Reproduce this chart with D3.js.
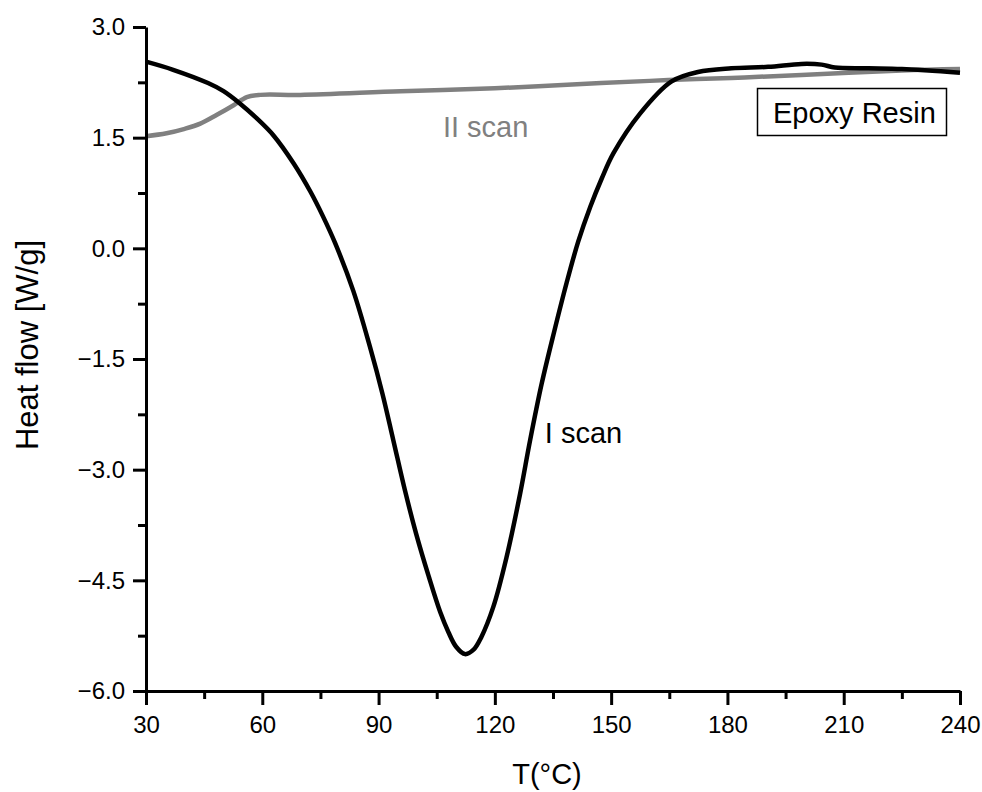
<!DOCTYPE html>
<html>
<head>
<meta charset="utf-8">
<script src="https://cdn.jsdelivr.net/npm/d3@7"></script>
<style>
  html, body { margin: 0; padding: 0; background: #fff; }
  svg { display: block; font-family: "Liberation Sans", Arial, sans-serif; }
</style>
</head>
<body>
<svg id="chart" width="982" height="792"></svg>
<script>
// ---- data ----
const scan1T = [30, 37, 46, 50, 54.3, 58.6, 62.9, 68.1, 72.4, 75.6, 78.8, 83.5, 87.8, 91.0, 93.8, 96.8, 99.7, 102.9, 105.9, 108.0, 110.0, 112.3, 114.5, 116.5, 119.6, 123.0, 126.5, 129.1, 132.1, 135.3, 138.5, 141.5, 144.6, 147.6, 150.6, 157.5, 165.5, 172.4, 181, 190.5, 199.1, 204.3, 207.7, 216.4, 225, 240];
const scan1Q = [2.53, 2.42, 2.24, 2.13, 1.96, 1.76, 1.53, 1.15, 0.77, 0.44, 0.07, -0.58, -1.34, -1.97, -2.60, -3.28, -3.87, -4.44, -4.93, -5.20, -5.40, -5.50, -5.44, -5.27, -4.86, -4.19, -3.33, -2.60, -1.83, -1.13, -0.47, 0.09, 0.56, 0.95, 1.29, 1.83, 2.26, 2.39, 2.44, 2.46, 2.50, 2.49, 2.45, 2.44, 2.43, 2.38];
const scan2T = [30, 35.3, 40, 44.0, 48.3, 52.6, 56.0, 59.5, 69.8, 95.7, 120, 147.4, 164.7, 181, 199.1, 225, 240];
const scan2Q = [1.52, 1.56, 1.62, 1.69, 1.81, 1.94, 2.05, 2.08, 2.08, 2.13, 2.17, 2.24, 2.28, 2.31, 2.35, 2.41, 2.43];
const xTicks = [30, 60, 90, 120, 150, 180, 210, 240];
const xMinor = [45, 75, 105, 135, 165, 195, 225];
const yTicks = [3.0, 1.5, 0.0, -1.5, -3.0, -4.5, -6.0];
const yMinor = [2.25, 0.75, -0.75, -2.25, -3.75, -5.25];
const labels = { scan1: "I scan", scan2: "II scan", legend: "Epoxy Resin", xTitle: "T(°C)", yTitle: "Heat flow [W/g]" };

// ---- layout ----
const svg = d3.select("#chart");
const margin = { left: 146, top: 27, right: 22, bottom: 101 };
const W = 982, H = 792;
const x = d3.scaleLinear().domain([30, 240]).range([margin.left, W - margin.right]);
const y = d3.scaleLinear().domain([-6, 3]).range([H - margin.bottom, margin.top]);

// curves
const line = d3.line().x(d => x(d[0])).y(d => y(d[1])).curve(d3.curveCatmullRom.alpha(0.5));
const s2 = scan2T.map((t, i) => [t, scan2Q[i]]);
const s1 = scan1T.map((t, i) => [t, scan1Q[i]]);
svg.append("path").attr("d", line(s2)).attr("fill", "none")
  .attr("stroke", "#808080").attr("stroke-width", 4.5).attr("stroke-linejoin", "round");
svg.append("path").attr("d", line(s1)).attr("fill", "none")
  .attr("stroke", "#000").attr("stroke-width", 4.5).attr("stroke-linejoin", "round");

// axes
function styleAxis(g) {
  g.select(".domain").attr("stroke", "#000").attr("stroke-width", 3);
  g.selectAll(".tick line").attr("stroke", "#000").attr("stroke-width", 3);
  g.selectAll(".tick text").attr("fill", "#000").attr("font-size", 24)
    .attr("font-family", "'Liberation Sans', Arial, sans-serif");
}
const xAxisG = svg.append("g").attr("transform", `translate(0,${y(-6)})`)
  .call(d3.axisBottom(x).tickValues(xTicks).tickFormat(d3.format("d")).tickSize(14).tickPadding(11).tickSizeOuter(0));
styleAxis(xAxisG);
const xMinorG = svg.append("g").attr("transform", `translate(0,${y(-6)})`)
  .call(d3.axisBottom(x).tickValues(xMinor).tickFormat("").tickSize(8).tickSizeOuter(0));
styleAxis(xMinorG);
xMinorG.select(".domain").remove();

const yAxisG = svg.append("g").attr("transform", `translate(${x(30)},0)`)
  .call(d3.axisLeft(y).tickValues(yTicks).tickFormat(d3.format(".1f")).tickSize(13).tickPadding(8).tickSizeOuter(0));
styleAxis(yAxisG);
const yMinorG = svg.append("g").attr("transform", `translate(${x(30)},0)`)
  .call(d3.axisLeft(y).tickValues(yMinor).tickFormat("").tickSize(8).tickSizeOuter(0));
styleAxis(yMinorG);
yMinorG.select(".domain").remove();

// axis titles
svg.append("text").attr("x", 547).attr("y", 784).attr("text-anchor", "middle")
  .attr("font-size", 29).attr("fill", "#000").text(labels.xTitle);
svg.append("text").attr("transform", "translate(38,345) rotate(-90)").attr("text-anchor", "middle")
  .attr("font-size", 31).attr("fill", "#000").text(labels.yTitle);

// curve labels
svg.append("text").attr("x", x(106.6)).attr("y", 137).attr("font-size", 29)
  .attr("fill", "#808080").text(labels.scan2);
svg.append("text").attr("x", x(132.9)).attr("y", 443).attr("font-size", 29)
  .attr("fill", "#000").text(labels.scan1);

// legend box
svg.append("rect").attr("x", 757.5).attr("y", 88.5).attr("width", 189).attr("height", 47)
  .attr("fill", "#fff").attr("stroke", "#000").attr("stroke-width", 1.5);
svg.append("text").attr("x", 773).attr("y", 123).attr("font-size", 29)
  .attr("fill", "#000").text(labels.legend);
</script>
</body>
</html>
